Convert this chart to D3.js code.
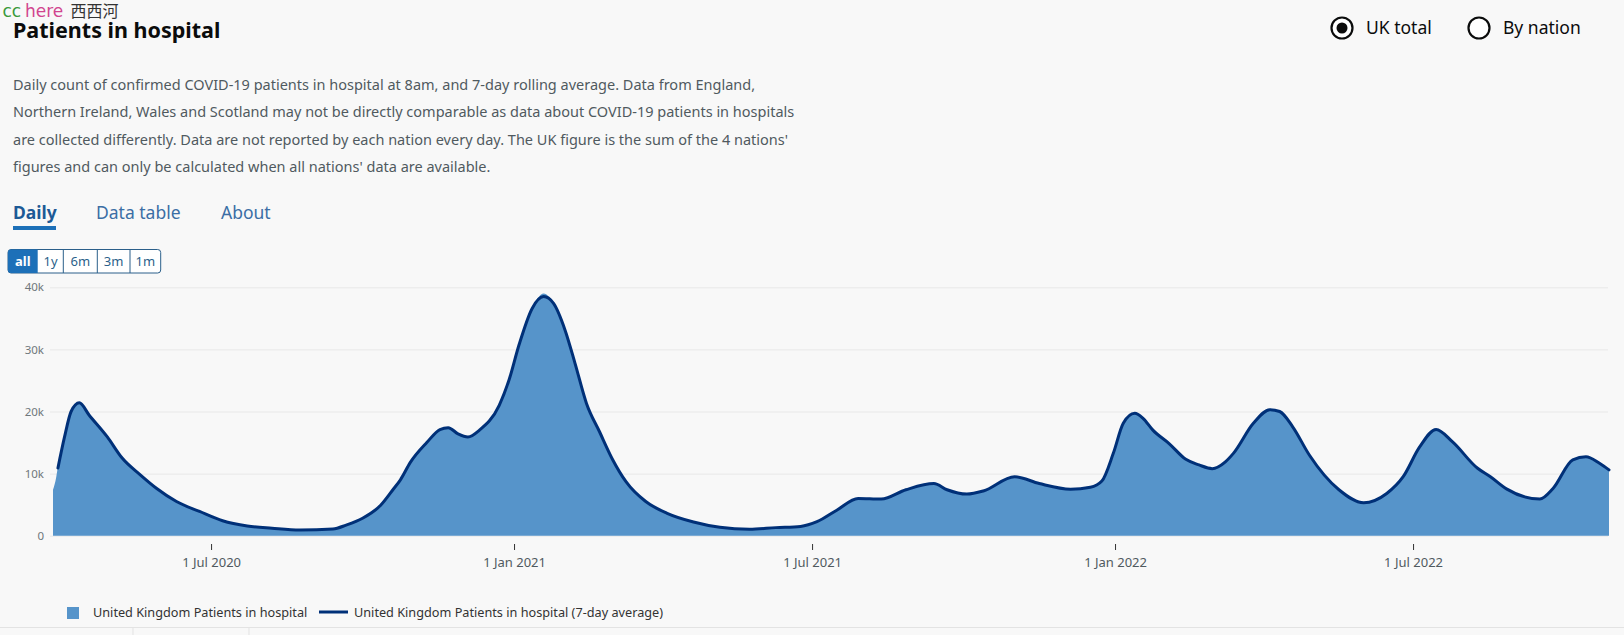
<!DOCTYPE html>
<html>
<head>
<meta charset="utf-8">
<title>Patients in hospital</title>
<script src="https://cdnjs.cloudflare.com/ajax/libs/d3/7.8.5/d3.min.js"></script>
<style>
  body { margin: 0; background: #f8f8f8; }
  svg text { font-family: "Noto Sans", sans-serif; }
</style>
</head>
<body>
<svg id="chart" width="1624" height="635"></svg>
<script>
// values, in thousands of patients
var dates = [
  "2020-03-27","2020-03-29","2020-03-30","2020-04-03","2020-04-07","2020-04-12","2020-04-18","2020-04-29",
  "2020-05-08","2020-05-19","2020-05-29","2020-06-10","2020-06-24","2020-07-08","2020-07-23","2020-08-07",
  "2020-08-24","2020-09-13","2020-09-21","2020-10-01","2020-10-12","2020-10-20","2020-10-24","2020-10-30",
  "2020-11-09","2020-11-17","2020-11-22","2020-11-28","2020-12-04","2020-12-11","2020-12-23","2020-12-29",
  "2021-01-04","2021-01-12","2021-01-19","2021-01-25","2021-02-01","2021-02-07","2021-02-14","2021-02-22",
  "2021-03-02","2021-03-10","2021-03-22","2021-04-04","2021-04-20","2021-05-06","2021-05-24","2021-06-09",
  "2021-06-24","2021-07-04","2021-07-16","2021-07-29","2021-08-12","2021-08-27","2021-09-13","2021-09-21",
  "2021-10-03","2021-10-13","2021-11-01","2021-11-16","2021-12-05","2021-12-17","2021-12-24","2021-12-31",
  "2022-01-06","2022-01-13","2022-01-18","2022-01-24","2022-02-03","2022-02-13","2022-02-21","2022-03-01",
  "2022-03-09","2022-03-14","2022-03-26","2022-04-05","2022-04-11","2022-04-19","2022-04-29","2022-05-17",
  "2022-06-01","2022-06-15","2022-06-25","2022-07-05","2022-07-15","2022-07-25","2022-08-09","2022-08-17",
  "2022-08-27","2022-09-16","2022-09-24","2022-10-06","2022-10-14","2022-10-22","2022-10-28"
];
var daily = [
  7.4, 9.5, 11.2, 16.2, 20.0, 21.5, 19.4, 15.8,
  12.5, 9.7, 7.6, 5.5, 3.9, 2.4, 1.55, 1.2,
  0.92, 1.08, 1.7, 2.8, 4.9, 7.6, 9.0, 11.8,
  15.0, 17.1, 17.4, 16.4, 15.9, 17.0, 21.0, 25.1,
  30.7, 36.6, 39.0, 37.4, 33.1, 27.8, 21.3, 16.7,
  12.2, 8.7, 5.5, 3.6, 2.2, 1.35, 1.03, 1.3,
  1.5, 2.25, 4.1, 6.0, 5.9, 7.4, 8.4, 7.4,
  6.7, 7.2, 9.5, 8.4, 7.5, 7.8, 8.8, 13.3,
  18.1, 19.8, 18.9, 17.0, 14.8, 12.3, 11.4, 10.8,
  11.9, 13.3, 18.1, 20.4, 20.0, 17.5, 13.0, 7.4,
  5.3, 6.8, 9.5, 14.3, 17.1, 15.1, 10.9, 9.5,
  7.5, 5.9, 7.6, 12.2, 12.7, 11.7, 10.6
];
var average = [
  null, null, 10.9, 15.9, 20.0, 21.4, 19.4, 15.9,
  12.5, 9.8, 7.6, 5.5, 3.9, 2.4, 1.56, 1.2,
  0.92, 1.08, 1.7, 2.8, 4.9, 7.6, 9.0, 11.8,
  15.0, 17.1, 17.4, 16.4, 15.9, 17.0, 21.0, 25.1,
  30.7, 36.6, 38.5, 37.4, 33.1, 27.8, 21.3, 16.7,
  12.2, 8.7, 5.5, 3.6, 2.2, 1.35, 1.03, 1.3,
  1.5, 2.25, 4.1, 6.0, 5.9, 7.4, 8.4, 7.4,
  6.7, 7.2, 9.5, 8.4, 7.5, 7.8, 8.8, 13.3,
  18.1, 19.7, 18.9, 17.0, 14.8, 12.3, 11.4, 10.8,
  11.9, 13.3, 18.1, 20.3, 20.0, 17.5, 13.0, 7.4,
  5.3, 6.8, 9.5, 14.3, 17.1, 15.1, 10.9, 9.5,
  7.5, 5.9, 7.6, 12.2, 12.7, 11.7, 10.6
];
var yTicks = [0, 10, 20, 30, 40];
var xTicks = ["2020-07-01", "2021-01-01", "2021-07-01", "2022-01-01", "2022-07-01"];
var tabs = ["Daily", "Data table", "About"];
var ranges = ["all", "1y", "6m", "3m", "1m"];
var nations = ["UK total", "By nation"];
var legendLabels = ["United Kingdom Patients in hospital", "United Kingdom Patients in hospital (7-day average)"];
var description = [
  "Daily count of confirmed COVID-19 patients in hospital at 8am, and 7-day rolling average. Data from England,",
  "Northern Ireland, Wales and Scotland may not be directly comparable as data about COVID-19 patients in hospitals",
  "are collected differently. Data are not reported by each nation every day. The UK figure is the sum of the 4 nations'",
  "figures and can only be calculated when all nations' data are available."
];

var parse = d3.timeParse("%Y-%m-%d");
var rows = dates.map(function(d, i) {
  return { date: parse(d), daily: daily[i], avg: average[i] };
});

var svg = d3.select("#chart");
var fill = "#5694ca", navy = "#003078";

// watermark, top left
svg.append("text").attr("x", 2.5).attr("y", 16.8).style("font-size", "17px")
   .style("font-family", "'DejaVu Sans'").attr("fill", "#3a9a3a").text("cc");
svg.append("text").attr("x", 25).attr("y", 16.8).style("font-size", "17px")
   .style("font-family", "'DejaVu Sans'").attr("fill", "#d1458f").text("here");
svg.append("text").attr("x", 70.5).attr("y", 16.8).style("font-size", "16px")
   .style("font-family", "'Noto Sans CJK SC'").attr("fill", "#333").text("西西河");

svg.append("text").attr("x", 13).attr("y", 38)
   .style("font-size", "21.5px").style("font-weight", "700").attr("fill", "#0b0c0c")
   .text("Patients in hospital");

// radios
var radioX = [1342, 1479];
nations.forEach(function(n, i) {
  svg.append("circle").attr("cx", radioX[i]).attr("cy", 28).attr("r", 10.5)
     .attr("fill", "#fff").attr("stroke", "#0b0c0c").attr("stroke-width", 2.2);
  if (i === 0) svg.append("circle").attr("cx", radioX[i]).attr("cy", 28).attr("r", 5.5).attr("fill", "#0b0c0c");
  svg.append("text").attr("x", radioX[i] + 24).attr("y", 34)
     .style("font-size", "17.5px").attr("fill", "#0b0c0c").text(n);
});

// description
svg.selectAll(".desc").data(description).enter().append("text")
   .attr("class", "desc").attr("x", 13).attr("y", function(d, i) { return 90 + i * 27.3; })
   .style("font-size", "14.5px").attr("fill", "#505a5f").text(function(d) { return d; });

// tabs
var tabX = [13, 96, 221];
tabs.forEach(function(t, i) {
  svg.append("text").attr("x", tabX[i]).attr("y", 219)
     .style("font-size", "17.5px").style("font-weight", i === 0 ? "700" : "400")
     .attr("fill", i === 0 ? "#1d5a96" : "#3b6ea5").text(t);
});
svg.append("rect").attr("x", 13).attr("y", 226).attr("width", 43).attr("height", 4).attr("fill", "#1d70b8");

// range buttons
var edges = [8, 37.7, 63.3, 97.3, 130, 160.7];
var btn = svg.append("g");
btn.append("rect").attr("x", edges[0]).attr("y", 249.5).attr("width", edges[5] - edges[0]).attr("height", 23.5)
   .attr("rx", 3).attr("fill", "#fff").attr("stroke", "#2b5f8a").attr("stroke-width", 1);
btn.append("path").attr("d", "M" + (edges[0] + 3) + ",249.5H" + edges[1] + "V273H" + (edges[0] + 3) +
   "a3,3 0 0 1 -3,-3V252.5a3,3 0 0 1 3,-3Z").attr("fill", "#1d70b8");
ranges.forEach(function(r, i) {
  if (i > 1) btn.append("line").attr("x1", edges[i]).attr("x2", edges[i]).attr("y1", 249.5).attr("y2", 273)
     .attr("stroke", "#2b5f8a");
  btn.append("text").attr("x", (edges[i] + edges[i + 1]) / 2).attr("y", 266).attr("text-anchor", "middle")
     .style("font-size", "13px").style("font-weight", i === 0 ? "700" : "400")
     .attr("fill", i === 0 ? "#fff" : "#2b5f8a").text(r);
});

// chart
var x = d3.scaleTime().domain([parse(dates[0]), parse(dates[dates.length - 1])]).range([53, 1609]);
var y = d3.scaleLinear().domain([0, 40]).range([535.7, 287.3]);

var yAxis = svg.append("g").attr("transform", "translate(50,0)")
  .call(d3.axisLeft(y).tickValues(yTicks).tickSize(-(1608 - 50)).tickPadding(6)
        .tickFormat(function(d) { return d === 0 ? "0" : d + "k"; }));
yAxis.select(".domain").remove();
yAxis.selectAll("line").attr("stroke", "#e8e8e8");
yAxis.selectAll("text").attr("fill", "#6f777b").style("font-size", "11.5px");

var area = d3.area().x(function(d) { return x(d.date); }).y0(y(0)).y1(function(d) { return y(d.daily); })
  .curve(d3.curveMonotoneX);
svg.append("path").datum(rows).attr("d", area).attr("fill", fill);

var line = d3.line().defined(function(d) { return d.avg !== null; })
  .x(function(d) { return x(d.date); }).y(function(d) { return y(d.avg); }).curve(d3.curveMonotoneX);
svg.append("path").datum(rows).attr("d", line).attr("fill", "none").attr("stroke", navy)
   .attr("stroke-width", 3).attr("stroke-linejoin", "round").attr("stroke-linecap", "round");

var xAxis = svg.append("g").attr("transform", "translate(0,544)")
  .call(d3.axisBottom(x).tickValues(xTicks.map(parse)).tickSize(6).tickPadding(8)
        .tickFormat(d3.timeFormat("%-d %b %Y")));
xAxis.select(".domain").remove();
xAxis.selectAll("line").attr("stroke", "#333");
xAxis.selectAll("text").attr("fill", "#505a5f").style("font-size", "13px");

// legend
svg.append("rect").attr("x", 67).attr("y", 607).attr("width", 12).attr("height", 12).attr("fill", fill);
svg.append("text").attr("x", 93).attr("y", 617).style("font-size", "12.7px").attr("fill", "#333").text(legendLabels[0]);
svg.append("line").attr("x1", 319).attr("x2", 348).attr("y1", 612).attr("y2", 612)
   .attr("stroke", navy).attr("stroke-width", 3);
svg.append("text").attr("x", 354).attr("y", 617).style("font-size", "12.7px").attr("fill", "#333").text(legendLabels[1]);

// start of the table underneath
svg.append("line").attr("x1", 0).attr("x2", 1624).attr("y1", 627.5).attr("y2", 627.5).attr("stroke", "#e3e3e3");
[133, 249].forEach(function(v) {
  svg.append("line").attr("x1", v).attr("x2", v).attr("y1", 628).attr("y2", 635).attr("stroke", "#e3e3e3");
});
</script>
</body>
</html>
